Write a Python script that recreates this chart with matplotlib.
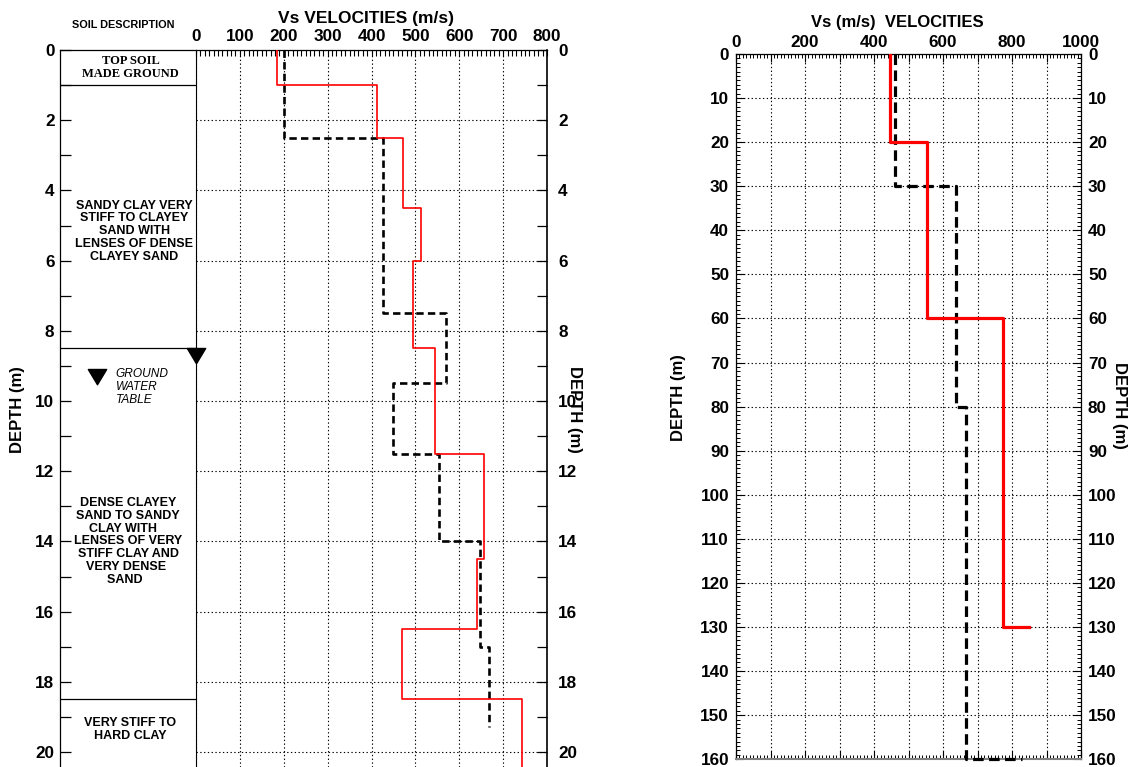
import matplotlib
matplotlib.use("Agg")
import matplotlib.pyplot as plt
from matplotlib.ticker import MultipleLocator, FuncFormatter
from matplotlib.path import Path
import numpy as np

plt.rcParams['font.family'] = ['Liberation Sans', 'DejaVu Sans']
plt.rcParams['font.weight'] = 'bold'

# ---------------- DATA ----------------
# Left profile (0-20 m)
left_red_bounds = [0, 1.0, 2.5, 4.5, 6.0, 8.5, 11.5, 14.5, 16.5, 18.5, 20.5]
left_red_vs = [185, 413, 472, 512, 494, 545, 656, 641, 469, 744]
left_blk_bounds = [0, 2.5, 7.5, 9.5, 11.5, 14.0, 17.0, 19.3]
left_blk_vs = [200, 427, 569, 449, 553, 647, 668]

soil_boundaries = [1.0, 8.5, 18.5]
gwt_depth = 8.5
soil_labels = [
    ("TOP SOIL\nMADE GROUND", 0.52, 0.5, 'serif'),
    ("SANDY CLAY VERY\nSTIFF TO CLAYEY\nSAND WITH\nLENSES OF DENSE\nCLAYEY SAND", 0.545, 5.16, 'sans'),
    ("DENSE CLAYEY\nSAND TO SANDY\nCLAY WITH   \nLENSES OF VERY\nSTIFF CLAY AND\nVERY DENSE \nSAND  ", 0.5, 14.0, 'sans'),
    ("VERY STIFF TO\nHARD CLAY", 0.515, 19.36, 'sans'),
]

# Right profile (0-160 m)
right_red_depth = [0, 20, 20, 60, 60, 130, 130]
right_red_vs = [445, 445, 555, 555, 775, 775, 850]
right_blk_depth = [0, 30, 30, 80, 80, 160, 160]
right_blk_vs = [460, 460, 637, 637, 668, 668, 830]


def step_xy(bounds, vs):
    d = np.repeat(bounds, 2)[1:-1]
    v = np.repeat(vs, 2)
    return v, d


W, H = 1129, 767
fig = plt.figure(figsize=(W / 100, H / 100), dpi=100)


def px_axes(x0, y0, x1, y1):
    return fig.add_axes([x0 / W, 1 - y1 / H, (x1 - x0) / W, (y1 - y0) / H])


grid_kw = dict(color='black', linewidth=0.8, linestyle=(0, (1.2, 2.2)))
ymax_left = (767 - 50) / 35.1
TICK_FS = 12.3

# ---------------- Soil column ----------------
soil = px_axes(60, 50, 196, 767)
soil.set_xlim(0, 1)
soil.set_ylim(ymax_left, 0)
soil.set_xticks([])
soil.yaxis.set_major_locator(MultipleLocator(2))
soil.yaxis.set_minor_locator(MultipleLocator(1))
soil.tick_params(axis='y', which='both', direction='in', length=8, width=0.9,
                 labelsize=TICK_FS, pad=4)
for lab in soil.get_yticklabels():
    lab.set_fontweight('bold')
soil.spines['bottom'].set_visible(False)
soil.spines['right'].set_visible(False)
for s in ['left', 'top']:
    soil.spines[s].set_linewidth(0.9)
for b in soil_boundaries:
    soil.axhline(b, color='black', linewidth=0.9)

for txt, x, y, fam in soil_labels:
    if fam == 'serif':
        soil.text(x, y, txt, ha='center', va='center', multialignment='center',
                  fontsize=9, fontweight='bold', family=['Liberation Serif', 'DejaVu Serif'],
                  linespacing=1.15)
    else:
        soil.text(x, y, txt, ha='center', va='center', multialignment='center',
                  fontsize=9, fontweight='bold', linespacing=1.08)

tri = Path([(-0.6, 0), (0.6, 0), (0, -1.0), (-0.6, 0)],
           [Path.MOVETO, Path.LINETO, Path.LINETO, Path.CLOSEPOLY])
soil.plot([0.27], [gwt_depth + 0.6], marker=tri, markersize=22, color='black',
          clip_on=False, zorder=10, linestyle='none')
soil.text(0.41, gwt_depth + 1.1, "GROUND\nWATER\nTABLE", ha='left', va='center',
          fontsize=8.6, fontstyle='italic', fontweight='normal', linespacing=1.15)

# ---------------- Left velocity axes ----------------
vel = px_axes(196, 50, 547, 767)
vel.set_xlim(0, 800)
vel.set_ylim(ymax_left, 0)
v, d = step_xy(left_blk_bounds, left_blk_vs)
vel.plot(v, d, color='black', linewidth=1.9, linestyle=(0, (2.8, 1.6)), zorder=4)
v, d = step_xy(left_red_bounds, left_red_vs)
vel.plot(v, d, color='red', linewidth=1.2, zorder=5)
vel.plot([0], [gwt_depth], marker=tri, markersize=22, color='black',
         clip_on=False, zorder=10, linestyle='none')

vel.xaxis.tick_top()
vel.xaxis.set_major_locator(MultipleLocator(100))
vel.xaxis.set_minor_locator(MultipleLocator(10))
vel.tick_params(axis='x', which='both', direction='in', length=4, width=0.8,
                labelsize=TICK_FS, pad=4)
vel.yaxis.tick_right()
vel.yaxis.set_major_locator(MultipleLocator(2))
vel.yaxis.set_minor_locator(MultipleLocator(1))
vel.tick_params(axis='y', which='both', direction='in', length=7, width=0.9,
                labelsize=TICK_FS, pad=8)
for lab in vel.get_xticklabels() + vel.get_yticklabels():
    lab.set_fontweight('bold')
vel.grid(True, which='major', **grid_kw)
vel.spines['bottom'].set_visible(False)
vel.spines['left'].set_linewidth(0.8)
vel.spines['top'].set_linewidth(0.9)
vel.spines['right'].set_linewidth(1.2)
vel.set_axisbelow(True)
vel.yaxis.set_label_position('right')
vel.set_ylabel("DEPTH (m)", rotation=270, fontsize=12, fontweight='bold')
vel.yaxis.set_label_coords((582 - 196) / 351, 1 - (409 - 50) / 717)

fig.text(366 / W, 1 - 19 / H, "Vs VELOCITIES (m/s)", ha='center', va='center',
         fontsize=12.5, fontweight='bold')
fig.text(123 / W, 1 - 25 / H, "SOIL DESCRIPTION", ha='center', va='center',
         fontsize=7.8, fontweight='bold')
fig.text(18 / W, 1 - 410 / H, "DEPTH (m)", ha='center', va='center', rotation=90,
         fontsize=12, fontweight='bold')

# ---------------- Right chart ----------------
ax = px_axes(736, 54, 1081, 759.3)
ax.set_xlim(0, 1000)
ax.set_ylim(160, 0)
ax.plot(right_blk_vs, right_blk_depth, color='black', linewidth=2.3,
        linestyle=(0, (3.3, 1.7)), zorder=4, clip_on=False)
ax.plot(right_red_vs, right_red_depth, color='red', linewidth=2.3, zorder=5)

ax.xaxis.set_major_locator(MultipleLocator(100))
ax.xaxis.set_minor_locator(MultipleLocator(10))
ax.xaxis.set_major_formatter(FuncFormatter(lambda x, p: f"{int(round(x))}" if int(round(x)) % 200 == 0 else ""))
ax.yaxis.set_major_locator(MultipleLocator(10))
ax.yaxis.set_minor_locator(MultipleLocator(1))
ax.tick_params(axis='both', which='major', direction='in', length=6, width=0.8,
               top=True, bottom=True, left=True, right=True,
               labeltop=True, labelbottom=False, labelleft=True, labelright=True,
               labelsize=TICK_FS)
ax.tick_params(axis='both', which='minor', direction='in', length=3, width=0.7,
               top=True, bottom=True, left=True, right=True)
ax.tick_params(axis='x', pad=3)
ax.tick_params(axis='y', pad=5)
for lab in ax.get_xticklabels() + ax.get_yticklabels():
    lab.set_fontweight('bold')
ax.grid(True, which='major', **grid_kw)
ax.set_axisbelow(True)
for s in ['left', 'top', 'right']:
    ax.spines[s].set_linewidth(0.9)
ax.spines['bottom'].set_color('#808080')
ax.spines['bottom'].set_linewidth(1.5)
ax.set_ylabel("DEPTH (m)", fontsize=12, fontweight='bold')
ax.yaxis.set_label_coords((686 - 736) / 345, 1 - (398 - 54) / 705.3)
fig.text(1120 / W, 1 - 405 / H, "DEPTH (m)", ha='center', va='center', rotation=270,
         fontsize=12, fontweight='bold')
fig.text(897 / W, 1 - 22 / H, "Vs (m/s)  VELOCITIES", ha='center', va='center',
         fontsize=12, fontweight='bold')

fig.savefig("out.png", dpi=100)
